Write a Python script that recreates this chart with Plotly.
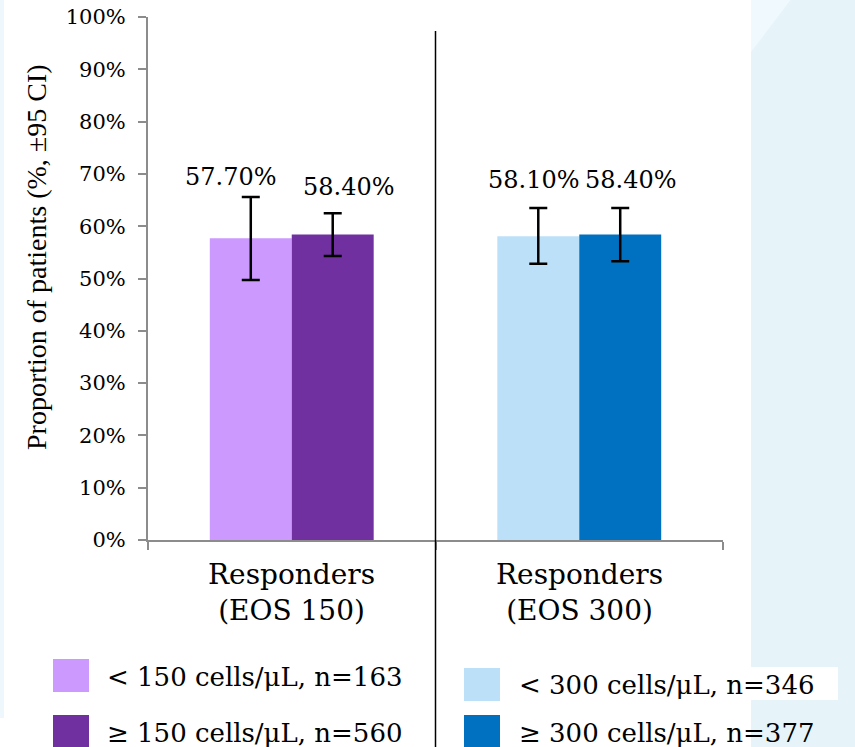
import plotly.graph_objects as go

# ---------------- data ----------------
categories = ["Responders<br>(EOS 150)", "Responders<br>(EOS 300)"]
low_names = ["< 150 cells/μL, n=163", "< 300 cells/μL, n=346"]
high_names = ["≥ 150 cells/μL, n=560", "≥ 300 cells/μL, n=377"]
low_values = [0.577, 0.581]
high_values = [0.584, 0.584]
low_ci_upper = [0.656, 0.635]
low_ci_lower = [0.497, 0.528]
high_ci_upper = [0.625, 0.635]
high_ci_lower = [0.543, 0.533]
low_labels = ["57.70%", "58.10%"]
high_labels = ["58.40%", "58.40%"]
y_title = "Proportion of patients (%, ±95 CI)"

# ---------------- style ----------------
low_colors = ["#CC99FF", "#BDE0F9"]
high_colors = ["#7030A0", "#0070C0"]
SERIF = "DejaVu Serif"
TIMES = "Liberation Serif"
W, H = 855, 747
L, R, T, B = 148, 132, 17, 207
PW, PH = W - L - R, H - T - B


def px(x):
    return (x - L) / PW


def py(y):
    return (H - B - y) / PH


fig = go.Figure()
fig.add_trace(go.Bar(
    x=categories, y=low_values, marker=dict(color=low_colors, line=dict(width=0)),
    error_y=dict(type="data", symmetric=False,
                 array=[u - v for u, v in zip(low_ci_upper, low_values)],
                 arrayminus=[v - l for v, l in zip(low_values, low_ci_lower)],
                 color="black", thickness=2.5, width=9),
    showlegend=False, hoverinfo="skip"))
fig.add_trace(go.Bar(
    x=categories, y=high_values, marker=dict(color=high_colors, line=dict(width=0)),
    error_y=dict(type="data", symmetric=False,
                 array=[u - v for u, v in zip(high_ci_upper, high_values)],
                 arrayminus=[v - l for v, l in zip(high_values, high_ci_lower)],
                 color="black", thickness=2.5, width=9),
    showlegend=False, hoverinfo="skip"))

shapes = []
# background light-blue panel on the right
shapes.append(dict(type="rect", xref="paper", yref="paper", x0=px(751), x1=px(W + 2),
                   y0=py(H + 2), y1=py(-2), fillcolor="#E6F4FA", line=dict(width=0), layer="below"))
shapes.append(dict(type="path", xref="paper", yref="paper",
                   path=f"M {px(751)},{py(-2)} L {px(792)},{py(-2)} L {px(751)},{py(52)} Z",
                   fillcolor="#F0F9FD", line=dict(width=0), layer="below"))
# faint left stripe
shapes.append(dict(type="rect", xref="paper", yref="paper", x0=px(-2), x1=px(4),
                   y0=py(718), y1=py(-2), fillcolor="#EEF7FB", line=dict(width=0), layer="below"))
# white box behind right legend text
shapes.append(dict(type="rect", xref="paper", yref="paper", x0=px(500), x1=px(838),
                   y0=py(700), y1=py(667), fillcolor="white", line=dict(width=0), layer="below"))
# divider line between groups
shapes.append(dict(type="line", xref="x", yref="paper", x0=0.5, x1=0.5,
                   y0=py(H + 2), y1=py(31), line=dict(color="black", width=1.5)))

# legend squares
legend_boxes = [
    (53, 659, low_colors[0]), (53, 715, high_colors[0]),
    (464, 668, low_colors[1]), (464, 715, high_colors[1]),
]
for x0, y0, c in legend_boxes:
    shapes.append(dict(type="rect", xref="paper", yref="paper", x0=px(x0), x1=px(x0 + 36),
                       y0=py(y0 + 33), y1=py(y0), fillcolor=c, line=dict(width=0)))

annotations = []
# y title
annotations.append(dict(text=y_title, xref="paper", yref="paper", x=px(36), y=py(257),
                        textangle=-90, showarrow=False, xanchor="center", yanchor="middle",
                        font=dict(family=TIMES, size=28, color="black")))
# category labels
for cat in categories:
    annotations.append(dict(text=cat, xref="x", yref="paper", x=cat, y=py(592),
                            yanchor="middle", showarrow=False,
                            font=dict(family=SERIF, size=28, color="black")))
# data labels
low_shift = [-61, -45]
high_shift = [57, 52]
low_ly = [177, 180]
high_ly = [187, 180]
for i, cat in enumerate(categories):
    annotations.append(dict(text=low_labels[i], xref="x", yref="paper", x=cat, y=py(low_ly[i]),
                            xshift=low_shift[i], yanchor="middle", showarrow=False,
                            font=dict(family=SERIF, size=24, color="black")))
    annotations.append(dict(text=high_labels[i], xref="x", yref="paper", x=cat, y=py(high_ly[i]),
                            xshift=high_shift[i], yanchor="middle", showarrow=False,
                            font=dict(family=SERIF, size=24, color="black")))
# legend texts
legend_texts = [
    (105, 677, low_names[0]), (105, 733, high_names[0]),
    (517, 685, low_names[1]), (517, 733, high_names[1]),
]
for x0, yc, t in legend_texts:
    annotations.append(dict(text=t, xref="paper", yref="paper", x=px(x0), y=py(yc),
                            xanchor="left", yanchor="middle", showarrow=False,
                            font=dict(family=SERIF, size=26, color="black")))

fig.update_layout(
    width=W, height=H, autosize=False,
    margin=dict(l=L, r=R, t=T, b=B, pad=0, autoexpand=False),
    paper_bgcolor="white", plot_bgcolor="rgba(0,0,0,0)",
    barmode="group", bargap=0.43, bargroupgap=0,
    shapes=shapes, annotations=annotations,
    showlegend=False,
    font=dict(family=SERIF, color="black"),
)
fig.update_xaxes(
    type="category", showgrid=False, showticklabels=False, automargin=False,
    showline=True, linecolor="#8C8C8C", linewidth=2,
    ticks="outside", ticklen=8, tickcolor="#8C8C8C", tickwidth=2,
    tickson="boundaries", zeroline=False,
)
fig.update_yaxes(
    range=[0, 1], dtick=0.1, tickformat=".0%", showgrid=False, zeroline=False,
    automargin=False,
    showline=True, linecolor="#8C8C8C", linewidth=2,
    ticks="outside", ticklen=8, tickcolor="#8C8C8C", tickwidth=2,
    tickfont=dict(family=SERIF, size=21, color="black"), ticklabelstandoff=8,
)

fig.write_html("out.html", config={"displayModeBar": False},
               post_script="document.body.style.margin='0px';")
